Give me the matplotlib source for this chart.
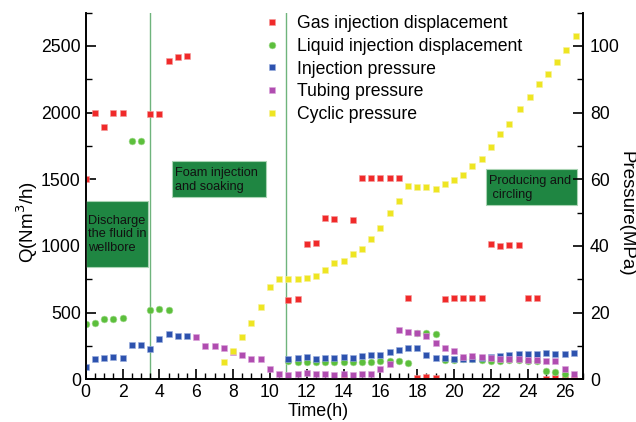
import matplotlib
matplotlib.use("Agg")
import matplotlib.pyplot as plt
from matplotlib.patches import Rectangle
from matplotlib.ticker import MultipleLocator

plt.rcParams['font.family'] = ['Liberation Sans', 'DejaVu Sans']

# Q (Nm3/h), left axis
gas_t = [0, 0.5, 1, 1.5, 2, 3.5, 4, 4.5, 5, 5.5, 11, 11.5, 12, 12.5, 13, 13.5, 14, 14.5,
         15, 15.5, 16, 16.5, 17, 17.5, 18, 18.5, 19, 19.5, 20, 20.5, 21, 21.5, 22, 22.5,
         23, 23.5, 24, 24.5, 25, 25.5, 26, 26.5]
gas_q = [1500, 2000, 1895, 2000, 2000, 1990, 1990, 2390, 2415, 2425, 595, 600, 1017, 1025,
         1207, 1200, 15, 1192, 1512, 1512, 1512, 1512, 1512, 612, 12, 20, 8, 602, 610, 610,
         610, 610, 1015, 1002, 1007, 1007, 610, 610, 2, 10, 2, 2]

liq_t = [0, 0.5, 1, 1.5, 2, 2.5, 3, 3.5, 4, 4.5, 11, 11.5, 12, 12.5, 13, 13.5, 14, 14.5,
         15, 15.5, 16, 16.5, 17, 17.5, 18, 18.5, 19, 19.5, 20, 20.5, 21, 21.5, 22, 22.5,
         23, 23.5, 24, 24.5, 25, 25.5, 26]
liq_q = [412, 420, 450, 450, 457, 1790, 1790, 517, 525, 517, 135, 132, 127, 132, 132, 132,
         127, 127, 130, 130, 137, 137, 137, 120, 350, 345, 342, 145, 148, 150, 150, 145,
         135, 140, 145, 145, 140, 140, 60, 52, 42]

# Pressure (MPa), right axis
inj_t = [0, 0.5, 1, 1.5, 2, 2.5, 3, 3.5, 4, 4.5, 5, 5.5, 11, 11.5, 12, 12.5, 13, 13.5, 14,
         14.5, 15, 15.5, 16, 16.5, 17, 17.5, 18, 18.5, 19, 19.5, 20, 20.5, 21, 21.5, 22,
         22.5, 23, 23.5, 24, 24.5, 25, 25.5, 26, 26.5]
inj_p = [3.8, 6.2, 6.5, 6.8, 6.5, 10.4, 10.4, 9.1, 12.0, 13.7, 13.1, 13.1, 6.2, 6.5, 6.8,
         6.2, 6.5, 6.5, 6.7, 6.5, 6.9, 7.2, 7.2, 8.1, 8.7, 9.4, 9.4, 7.3, 6.5, 6.3, 6.1,
         6.2, 6.2, 6.5, 6.6, 7.0, 7.4, 7.5, 7.5, 7.6, 7.8, 7.5, 7.6, 8.0]

tub_t = [6, 6.5, 7, 7.5, 8, 8.5, 9, 9.5, 10, 10.5, 11, 11.5, 12, 12.5, 13, 13.5, 14, 14.5,
         15, 15.5, 16, 16.5, 17, 17.5, 18, 18.5, 19, 19.5, 20, 20.5, 21, 21.5, 22, 22.5,
         23, 23.5, 24, 24.5, 25, 25.5, 26, 26.5]
tub_p = [12.8, 9.9, 10.1, 9.3, 8.2, 7.2, 6.2, 6.0, 3.0, 1.6, 1.4, 1.6, 2.0, 1.6, 1.6, 1.4,
         1.6, 1.4, 1.6, 1.6, 3.0, 4.6, 14.7, 14.1, 13.9, 13.1, 11.0, 9.4, 8.6, 6.8, 6.9,
         6.6, 6.3, 6.2, 6.2, 6.2, 5.9, 5.8, 5.6, 5.6, 3.2, 1.5]

cyc_t = [7.5, 8, 8.5, 9, 9.5, 10, 10.5, 11, 11.5, 12, 12.5, 13, 13.5, 14, 14.5, 15, 15.5,
         16, 16.5, 17, 17.5, 18, 18.5, 19, 19.5, 20, 20.5, 21, 21.5, 22, 22.5, 23, 23.6,
         24.1, 24.6, 25.1, 25.6, 26.1, 26.6]
cyc_p = [5.1, 8.5, 12.6, 16.8, 21.6, 27.6, 30.2, 30.2, 30.0, 30.5, 31.1, 32.7, 34.8, 35.4,
         37.5, 39.0, 42.2, 45.4, 49.9, 53.6, 58.1, 57.6, 57.8, 57.2, 58.6, 59.7, 61.3, 64.0,
         66.1, 69.8, 73.5, 76.7, 81.0, 84.6, 88.6, 91.6, 95.2, 98.7, 103.0]

stage_lines = [3.5, 10.9]

fig = plt.figure(figsize=(6.36, 4.22), dpi=100)
ax = fig.add_axes([0.1347, 0.1012, 0.7820, 0.8688])
ax2 = ax.twinx()

ms = 4.4
h1, = ax.plot(gas_t, gas_q, 's', color='#f02a2a', mec='#f59a9a', mew=0.4, ms=ms,
              label='Gas injection displacement')
h2, = ax.plot(liq_t, liq_q, 'o', color='#5cbf3c', mec='#a8dc96', mew=0.4, ms=ms + 0.5,
              label='Liquid injection displacement')
h3, = ax2.plot(inj_t, inj_p, 's', color='#2d52ae', mec='#9aaede', mew=0.4, ms=ms,
               label='Injection pressure')
h4, = ax2.plot(tub_t, tub_p, 's', color='#b04db0', mec='#dca6dc', mew=0.4, ms=ms,
               label='Tubing pressure')
h5, = ax2.plot(cyc_t, cyc_p, 's', color='#eee522', mec='#f7f29a', mew=0.4, ms=ms,
               label='Cyclic pressure')

for xv in stage_lines:
    ax.axvline(xv, color='#6fb47c', lw=1.0, zorder=1)

ax.set_xlim(0, 27)
ax.set_ylim(0, 2750)
ax2.set_ylim(0, 110)

ax.xaxis.set_major_locator(MultipleLocator(2))
ax.xaxis.set_minor_locator(MultipleLocator(0.5))
ax.yaxis.set_major_locator(MultipleLocator(500))
ax.yaxis.set_minor_locator(MultipleLocator(250))
ax2.yaxis.set_major_locator(MultipleLocator(20))
ax2.yaxis.set_minor_locator(MultipleLocator(10))

for a in (ax, ax2):
    a.spines['top'].set_visible(False)
    a.tick_params(which='major', direction='in', length=7, width=1.2, labelsize=12.7)
    a.tick_params(which='minor', direction='in', length=4, width=1.0)
    for s in a.spines.values():
        s.set_linewidth(1.2)
ax2.tick_params(axis='y', which='major', pad=5)

fig.text(318 / 636, 1 - 411 / 422, 'Time(h)', fontsize=12.9, ha='center', va='center')
fig.text(27 / 636, 1 - 222 / 422, 'Q(Nm$^3$/h)', fontsize=13.5, rotation=90,
         ha='center', va='center')
fig.text(626 / 636, 1 - 214 / 422, 'Pressure(MPa)', fontsize=13.5, rotation=270,
         ha='center', va='center')

# stage boxes
box_c = '#1f8642'
boxes = [((0.0, 845), 3.4, 495, 'Discharge\nthe fluid in\nwellbore', (0.12, 1235)),
         ((4.67, 1370), 5.1, 270, 'Foam injection\nand soaking', (4.85, 1590)),
         ((21.75, 1308), 4.93, 269, 'Producing and\n circling', (21.9, 1530))]
for (xy, w, h, txt, txy) in boxes:
    ax.add_patch(Rectangle(xy, w, h, facecolor=box_c, edgecolor='#a9d3b3', lw=0.8, zorder=3))
    ax.text(txy[0], txy[1], txt, fontsize=9.2, color='#111111', va='top', ha='left',
            linespacing=1.2, zorder=4)

fig.legend(handles=[h1, h2, h3, h4, h5], loc='upper left', bbox_to_anchor=(0.392, 0.998),
           frameon=False, fontsize=12.7, handlelength=1.0, handletextpad=0.9,
           labelspacing=0.33, borderpad=0.3)

fig.savefig('out.png', dpi=100)
